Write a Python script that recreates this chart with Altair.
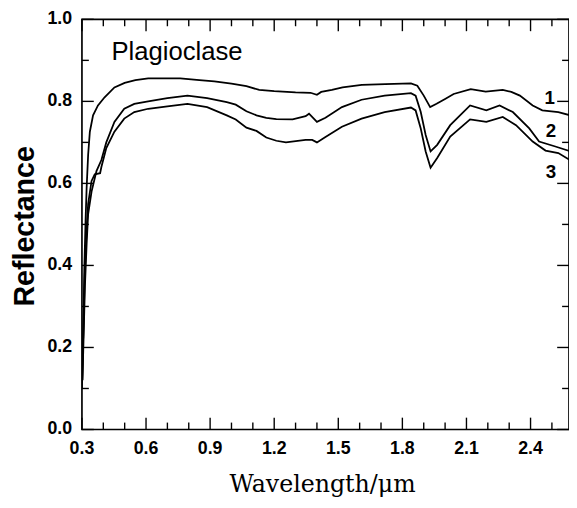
import altair as alt
import pandas as pd

# ---- data ----
series_names = ["1", "2", "3"]

wl_1 = [0.300, 0.306, 0.311, 0.317, 0.322, 0.329, 0.337, 0.352, 0.375, 0.406, 0.452,
        0.500, 0.550, 0.610, 0.700, 0.760, 0.850, 0.920, 1.000, 1.070, 1.130, 1.200,
        1.300, 1.370, 1.400, 1.420, 1.470, 1.520, 1.610, 1.720, 1.840, 1.870, 1.900,
        1.930, 1.960, 2.000, 2.040, 2.120, 2.190, 2.270, 2.310, 2.350, 2.410, 2.455,
        2.530, 2.600]
refl_1 = [0.100, 0.230, 0.390, 0.510, 0.590, 0.670, 0.726, 0.766, 0.790, 0.810, 0.834,
          0.845, 0.852, 0.856, 0.856, 0.856, 0.852, 0.849, 0.843, 0.837, 0.828, 0.825,
          0.822, 0.821, 0.816, 0.823, 0.828, 0.834, 0.840, 0.842, 0.844, 0.838, 0.814,
          0.786, 0.794, 0.806, 0.818, 0.830, 0.824, 0.828, 0.823, 0.814, 0.790, 0.778,
          0.774, 0.764]

wl_2 = [0.302, 0.306, 0.314, 0.322, 0.329, 0.345, 0.368, 0.391, 0.414, 0.452, 0.498,
        0.545, 0.610, 0.700, 0.794, 0.886, 0.978, 1.020, 1.070, 1.117, 1.163, 1.210,
        1.286, 1.347, 1.363, 1.400, 1.440, 1.517, 1.609, 1.717, 1.840, 1.862, 1.886,
        1.909, 1.932, 1.963, 2.024, 2.117, 2.193, 2.255, 2.317, 2.394, 2.440, 2.516,
        2.600]
refl_2 = [0.120, 0.190, 0.350, 0.453, 0.525, 0.580, 0.630, 0.657, 0.700, 0.750, 0.782,
          0.794, 0.800, 0.808, 0.814, 0.808, 0.798, 0.792, 0.776, 0.766, 0.760, 0.757,
          0.756, 0.764, 0.770, 0.750, 0.760, 0.786, 0.804, 0.814, 0.820, 0.814, 0.774,
          0.718, 0.678, 0.694, 0.742, 0.790, 0.778, 0.790, 0.774, 0.734, 0.702, 0.690,
          0.676]

wl_3 = [0.302, 0.306, 0.314, 0.322, 0.329, 0.345, 0.360, 0.385, 0.391, 0.414, 0.452,
        0.498, 0.545, 0.610, 0.700, 0.794, 0.886, 0.978, 1.020, 1.070, 1.117, 1.163,
        1.210, 1.255, 1.347, 1.378, 1.400, 1.440, 1.517, 1.609, 1.717, 1.840, 1.862,
        1.886, 1.909, 1.932, 1.963, 2.024, 2.117, 2.193, 2.270, 2.332, 2.410, 2.470,
        2.530, 2.600]
refl_3 = [0.120, 0.230, 0.390, 0.493, 0.550, 0.606, 0.622, 0.625, 0.640, 0.686, 0.726,
          0.758, 0.774, 0.782, 0.788, 0.794, 0.786, 0.766, 0.756, 0.736, 0.728, 0.712,
          0.704, 0.700, 0.706, 0.706, 0.700, 0.713, 0.738, 0.758, 0.774, 0.785, 0.778,
          0.734, 0.678, 0.638, 0.662, 0.714, 0.756, 0.750, 0.762, 0.742, 0.702, 0.680,
          0.674, 0.652]

x_major_ticks = [0.3, 0.6, 0.9, 1.2, 1.5, 1.8, 2.1, 2.4]
x_minor_ticks = [0.4, 0.5, 0.7, 0.8, 1.0, 1.1, 1.3, 1.4, 1.6, 1.7, 1.9, 2.0, 2.2, 2.3, 2.5]
y_major_ticks = [0.0, 0.2, 0.4, 0.6, 0.8, 1.0]
y_minor_ticks = [0.1, 0.3, 0.5, 0.7, 0.9]

x_title = "Wavelength/\u03bcm"
y_title = "Reflectance"

# annotations (data units)
curve_label_text = ["1", "2", "3"]
curve_label_x = [2.49, 2.495, 2.495]
curve_label_y = [0.794, 0.714, 0.614]
title_text = ["Plagioclase"]
title_x = [0.438]
title_y = [0.901]

X_DOMAIN = [0.3, 2.58]
Y_DOMAIN = [0.0, 1.0]

rows = []
for name, wl, rf in zip(series_names, [wl_1, wl_2, wl_3], [refl_1, refl_2, refl_3]):
    for w, r in zip(wl, rf):
        rows.append({"series": name, "wavelength": w, "reflectance": r})
df = pd.DataFrame(rows)

lab_df = pd.DataFrame({"t": curve_label_text, "x": curve_label_x, "y": curve_label_y})
ttl_df = pd.DataFrame({"t": title_text, "x": title_x, "y": title_y})

PLOT_W = 494
PLOT_H = 416
MAJ = 12
MIN = 7
TW = 1.4
LABEL_FONT = "Liberation Sans"

# tick lengths converted to data units of each scale
ux = (X_DOMAIN[1] - X_DOMAIN[0]) / PLOT_W
uy = (Y_DOMAIN[1] - Y_DOMAIN[0]) / PLOT_H

xscale = alt.Scale(domain=X_DOMAIN, nice=False, zero=False)
yscale = alt.Scale(domain=Y_DOMAIN, nice=False, zero=False)


def X(field):
    return alt.X(field, scale=xscale, axis=None)


def Y(field):
    return alt.Y(field, scale=yscale, axis=None)


lines = alt.Chart(df).mark_line(color="black", strokeWidth=1.8, clip=True).encode(
    x=X("wavelength:Q"),
    y=Y("reflectance:Q"),
    detail="series:N",
)

# inward tick segments on all four sides, each a two-point path
tick_rows = []
tid = 0
for vals, ln in [(x_major_ticks, MAJ), (x_minor_ticks, MIN)]:
    for v in vals:
        for edge, sgn in [(Y_DOMAIN[0], 1), (Y_DOMAIN[1], -1)]:
            tick_rows.append({"id": tid, "k": 0, "px": v, "py": edge})
            tick_rows.append({"id": tid, "k": 1, "px": v, "py": edge + sgn * ln * uy})
            tid += 1
for vals, ln in [(y_major_ticks, MAJ), (y_minor_ticks, MIN)]:
    for v in vals:
        for edge, sgn in [(X_DOMAIN[0], 1), (X_DOMAIN[1], -1)]:
            tick_rows.append({"id": tid, "k": 0, "px": edge, "py": v})
            tick_rows.append({"id": tid, "k": 1, "px": edge + sgn * ln * ux, "py": v})
            tid += 1

tick_marks = alt.Chart(pd.DataFrame(tick_rows)).mark_line(
    color="black", strokeWidth=TW
).encode(
    x=X("px:Q"), y=Y("py:Q"), detail="id:N", order="k:Q",
)

# tick labels
x_tick_labels = alt.Chart(pd.DataFrame({"lx": x_major_ticks})).mark_text(
    font=LABEL_FONT, fontSize=18, fontWeight="bold", color="black",
    align="center", baseline="top",
).encode(
    x=X("lx:Q"), y=alt.value(PLOT_H + 11), text=alt.Text("lx:Q", format=".1f"),
)
y_tick_labels = alt.Chart(pd.DataFrame({"ly": y_major_ticks})).mark_text(
    font=LABEL_FONT, fontSize=18, fontWeight="bold", color="black",
    align="right", baseline="middle",
).encode(
    y=Y("ly:Q"), x=alt.value(-10), text=alt.Text("ly:Q", format=".1f"),
)

# axis titles
x_title_layer = alt.Chart(pd.DataFrame({"t": [x_title]})).mark_text(
    font="DejaVu Serif", fontSize=24, color="black", align="center",
    baseline="alphabetic",
).encode(x=alt.value(244), y=alt.value(PLOT_H + 63), text="t:N")
y_title_layer = alt.Chart(pd.DataFrame({"t": [y_title]})).mark_text(
    font=LABEL_FONT, fontSize=29, fontWeight="bold", color="black", align="center",
    baseline="alphabetic", angle=270,
).encode(x=alt.value(-49), y=alt.value(210), text="t:N")

curve_labels = alt.Chart(lab_df).mark_text(
    font=LABEL_FONT, fontSize=19, fontWeight="bold", color="black",
    align="center", baseline="alphabetic",
).encode(
    x=X("x:Q"),
    y=Y("y:Q"),
    text="t:N",
)

plag = alt.Chart(ttl_df).mark_text(
    font=LABEL_FONT, fontSize=26, color="black", align="left", baseline="alphabetic",
).encode(
    x=X("x:Q"),
    y=Y("y:Q"),
    text="t:N",
)

chart = alt.layer(
    lines, tick_marks, x_tick_labels, y_tick_labels, x_title_layer, y_title_layer,
    curve_labels, plag,
).properties(
    width=PLOT_W, height=PLOT_H, autosize="none",
    padding={"left": 75, "top": 8, "right": 0, "bottom": 68},
    background="white",
).configure_view(stroke="black", strokeWidth=1.7)

chart.save("out.html", embed_options={"renderer": "svg", "actions": False})
